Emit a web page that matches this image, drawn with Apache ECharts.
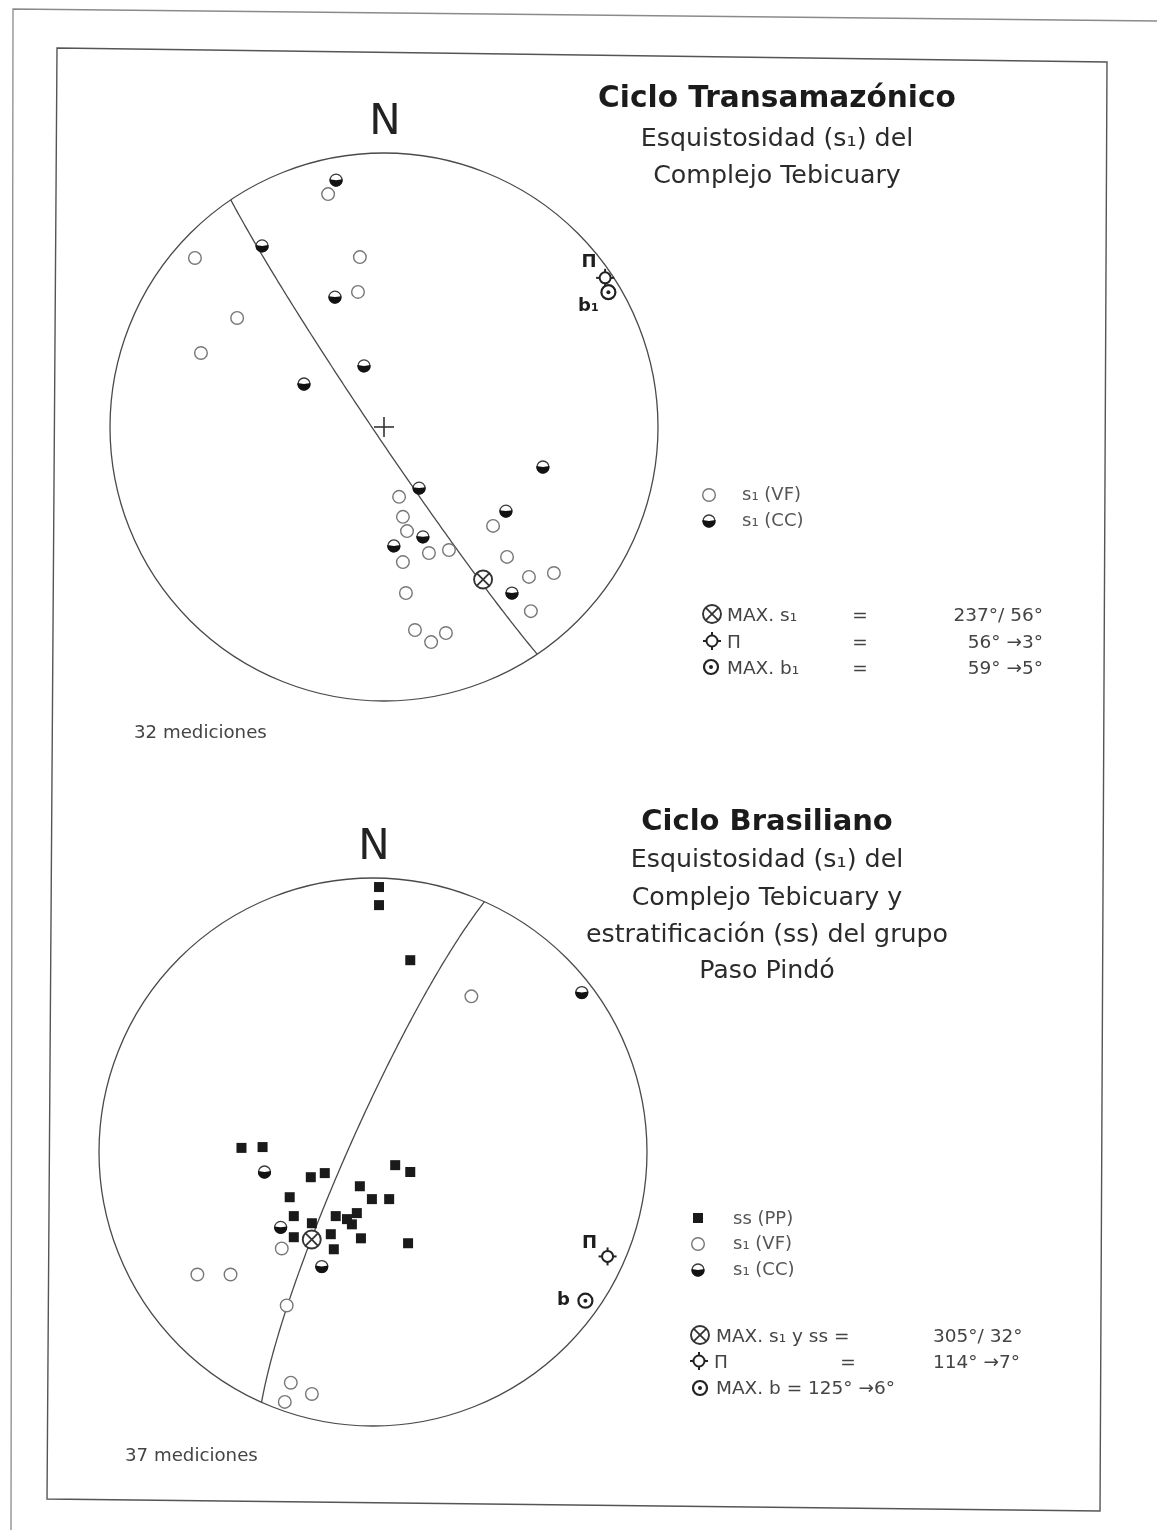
<!DOCTYPE html>
<html>
<head>
<meta charset="utf-8">
<title>Ciclo Transamazónico / Ciclo Brasiliano</title>
<script src="https://cdn.jsdelivr.net/npm/echarts@6/dist/echarts.min.js"></script>
<style>
  html, body { margin: 0; padding: 0; background: #ffffff; }
  #chart { width: 1157px; height: 1530px; }
</style>
</head>
<body>
<div id="chart"></div>
<script>
// Equal-area (Schmidt) nets, lower hemisphere. Pole positions are given as
// projected coordinates on a net of unit radius: [east, north].

// ---- Ciclo Transamazónico: esquistosidad s1 del Complejo Tebicuary (32 mediciones)
const transVF = [
  [-0.204, 0.850], [-0.690, 0.617], [-0.088, 0.620], [-0.095, 0.493], [-0.536, 0.398],
  [-0.668, 0.270], [0.055, -0.255], [0.069, -0.328], [0.084, -0.380], [0.164, -0.460],
  [0.237, -0.449], [0.069, -0.493], [0.398, -0.361], [0.449, -0.474], [0.529, -0.547],
  [0.620, -0.533], [0.536, -0.672], [0.080, -0.606], [0.113, -0.741], [0.172, -0.785],
  [0.226, -0.752]
];
const transCC = [
  [-0.175, 0.901], [-0.445, 0.661], [-0.179, 0.474], [-0.073, 0.223], [-0.292, 0.157],
  [0.580, -0.146], [0.128, -0.223], [0.445, -0.307], [0.142, -0.401], [0.036, -0.434],
  [0.467, -0.606]
];
const transMaxS = [237, 56];   // strike / dip of the s1 maximum
const transPi = [56, 3];       // trend / plunge of Π
const transB = [59, 5];        // trend / plunge of b1

// ---- Ciclo Brasiliano: s1 del Complejo Tebicuary y ss del grupo Paso Pindó (37 mediciones)
const brasSS = [
  [0.022, 0.967], [0.022, 0.901], [0.136, 0.700], [-0.480, 0.015], [-0.403, 0.018],
  [-0.227, -0.092], [-0.176, -0.077], [0.081, -0.048], [0.136, -0.073], [-0.048, -0.125],
  [-0.304, -0.165], [-0.004, -0.172], [0.059, -0.172], [-0.289, -0.234], [-0.223, -0.260],
  [-0.136, -0.234], [-0.095, -0.245], [-0.059, -0.223], [-0.077, -0.264], [-0.289, -0.311],
  [-0.154, -0.300], [-0.044, -0.315], [-0.143, -0.355], [0.128, -0.333]
];
const brasVF = [
  [0.359, 0.568], [-0.333, -0.352], [-0.641, -0.447], [-0.520, -0.447], [-0.315, -0.560],
  [-0.300, -0.842], [-0.223, -0.883], [-0.322, -0.912]
];
const brasCC = [
  [0.762, 0.582], [-0.396, -0.073], [-0.337, -0.275], [-0.187, -0.418]
];
const brasMaxS = [305, 32];    // strike / dip of the s1 + ss maximum
const brasPi = [114, 7];       // trend / plunge of Π
const brasB = [125, 6];        // trend / plunge of b

// ---- text blocks
const transTitle = 'Ciclo Transamazónico';
const transSubtitle = ['Esquistosidad (s₁) del', 'Complejo Tebicuary'];
const transLegend = ['s₁ (VF)', 's₁ (CC)'];
const transSummary = [
  ['MAX. s₁', '=', '237°/ 56°'],
  ['Π', '=', '56° →3°'],
  ['MAX. b₁', '=', '59° →5°']
];
const transCount = '32 mediciones';

const brasTitle = 'Ciclo Brasiliano';
const brasSubtitle = ['Esquistosidad (s₁) del', 'Complejo Tebicuary y',
  'estratificación (ss) del grupo', 'Paso Pindó'];
const brasLegend = ['ss (PP)', 's₁ (VF)', 's₁ (CC)'];
const brasSummary = [
  ['MAX. s₁ y ss =', '', '305°/ 32°'],
  ['Π', '=', '114° →7°'],
  ['MAX. b = 125° →6°', '', '']
];
const brasCount = '37 mediciones';

// ---- projection helpers
const D2R = Math.PI / 180;
function schmidt(trend, plunge) {
  const r = Math.SQRT2 * Math.sin((90 - plunge) / 2 * D2R);
  return [r * Math.sin(trend * D2R), r * Math.cos(trend * D2R)];
}
// pole of a plane given as strike / dip (right-hand rule)
function planePole(strike, dip) {
  return [(strike + 270) % 360, 90 - dip];
}
// great circle (girdle) normal to a pole, lower hemisphere
function girdle(trend, plunge) {
  const t = trend * D2R, p = plunge * D2R;
  const s = [Math.sin(t + Math.PI / 2), Math.cos(t + Math.PI / 2), 0];
  const dp = Math.PI / 2 - p;
  const d = [Math.cos(dp) * Math.sin(t + Math.PI), Math.cos(dp) * Math.cos(t + Math.PI), Math.sin(dp)];
  const pts = [];
  for (let k = 0; k <= 180; k++) {
    const a = k * D2R, c = Math.cos(a), sn = Math.sin(a);
    const v = [s[0] * c + d[0] * sn, s[1] * c + d[1] * sn, s[2] * c + d[2] * sn];
    const h = Math.hypot(v[0], v[1]);
    const r = Math.sqrt(Math.max(0, 1 - v[2]));
    pts.push(h < 1e-9 ? [0, 0] : [r * v[0] / h, r * v[1] / h]);
  }
  return pts;
}

// ---- symbols
const INK = '#2b2b2b';
const FONT = '"DejaVu Sans", "Liberation Sans", Arial, sans-serif';

function symOpen(cx, cy) {
  return { type: 'circle', shape: { cx, cy, r: 6.3 }, style: { fill: '#fff', stroke: '#777', lineWidth: 1.4 } };
}
function symHalf(cx, cy) {
  return { type: 'group', children: [
    { type: 'circle', shape: { cx, cy, r: 6 }, style: { fill: '#fff', stroke: '#3a3a3a', lineWidth: 1.3 } },
    { type: 'sector', shape: { cx, cy, r0: 0, r: 6.5, startAngle: -0.15, endAngle: Math.PI + 0.15, clockwise: true },
      style: { fill: '#121212' } }
  ] };
}
function symSquare(cx, cy) {
  return { type: 'rect', shape: { x: cx - 5, y: cy - 5, width: 10, height: 10 }, style: { fill: '#1a1a1a' } };
}
function symMax(cx, cy) {
  const r = 9, k = r * 0.68;
  return { type: 'group', children: [
    { type: 'circle', shape: { cx, cy, r }, style: { fill: '#fff', stroke: '#333', lineWidth: 1.9 } },
    { type: 'line', shape: { x1: cx - k, y1: cy - k, x2: cx + k, y2: cy + k }, style: { stroke: '#333', lineWidth: 1.8 } },
    { type: 'line', shape: { x1: cx - k, y1: cy + k, x2: cx + k, y2: cy - k }, style: { stroke: '#333', lineWidth: 1.8 } }
  ] };
}
function symPi(cx, cy) {
  const r = 5.5, e = 3.5;
  const st = { stroke: '#222', lineWidth: 2 };
  return { type: 'group', children: [
    { type: 'circle', shape: { cx, cy, r }, style: { fill: '#fff', stroke: '#222', lineWidth: 2 } },
    { type: 'line', shape: { x1: cx, y1: cy - r - e, x2: cx, y2: cy - r }, style: st },
    { type: 'line', shape: { x1: cx, y1: cy + r, x2: cx, y2: cy + r + e }, style: st },
    { type: 'line', shape: { x1: cx - r - e, y1: cy, x2: cx - r, y2: cy }, style: st },
    { type: 'line', shape: { x1: cx + r, y1: cy, x2: cx + r + e, y2: cy }, style: st }
  ] };
}
function symB(cx, cy) {
  return { type: 'group', children: [
    { type: 'circle', shape: { cx, cy, r: 7 }, style: { fill: '#fff', stroke: '#222', lineWidth: 2.2 } },
    { type: 'circle', shape: { cx, cy, r: 2 }, style: { fill: '#222' } }
  ] };
}
function txt(x, y, text, size, opts) {
  const o = opts || {};
  return { type: 'text', x, y, z: 20, style: {
    text, font: (o.weight || 'normal') + ' ' + size + 'px ' + FONT,
    fill: o.color || INK,
    textAlign: o.align || 'left', align: o.align || 'left',
    textVerticalAlign: 'middle', verticalAlign: 'middle'
  } };
}

// ---- series builders
function netSeries(g) {
  return {
    type: 'custom', xAxisIndex: g, yAxisIndex: g, z: 1, silent: true,
    data: [[0, 0]],
    renderItem(params, api) {
      const c = api.coord([0, 0]);
      const r = api.size([1, 1])[0];
      const children = [
        { type: 'circle', shape: { cx: c[0], cy: c[1], r }, style: { fill: null, stroke: '#4a4a4a', lineWidth: 1.3 } }
      ];
      if (g === 0) {
        children.push(
          { type: 'line', shape: { x1: c[0] - 10, y1: c[1], x2: c[0] + 10, y2: c[1] }, style: { stroke: '#333', lineWidth: 1.6 } },
          { type: 'line', shape: { x1: c[0], y1: c[1] - 10, x2: c[0], y2: c[1] + 10 }, style: { stroke: '#333', lineWidth: 1.6 } }
        );
      }
      return { type: 'group', children };
    }
  };
}
function girdleSeries(g, pole) {
  return {
    type: 'custom', xAxisIndex: g, yAxisIndex: g, z: 2, silent: true,
    data: [pole],
    renderItem(params, api) {
      const pts = girdle(api.value(0), api.value(1)).map(q => api.coord(q));
      return { type: 'polyline', shape: { points: pts }, style: { stroke: '#4a4a4a', lineWidth: 1.3, fill: null } };
    }
  };
}
function pointSeries(g, data, draw, z) {
  return {
    type: 'custom', xAxisIndex: g, yAxisIndex: g, z: z || 3, silent: true,
    data,
    renderItem(params, api) {
      const p = api.coord([api.value(0), api.value(1)]);
      return draw(p[0], p[1]);
    }
  };
}
function markSeries(g, value, kind, label, dx, dy) {
  return {
    type: 'custom', xAxisIndex: g, yAxisIndex: g, z: 6, silent: true,
    data: [value],
    renderItem(params, api) {
      const a = api.value(0), b = api.value(1);
      const tp = kind === 'max' ? planePole(a, b) : [a, b];
      const p = api.coord(schmidt(tp[0], tp[1]));
      const sym = kind === 'max' ? symMax : (kind === 'pi' ? symPi : symB);
      const children = [sym(p[0], p[1])];
      if (label) {
        children.push({ type: 'text', x: p[0] + dx, y: p[1] + dy, style: {
          text: label, font: 'bold 18px ' + FONT, fill: '#1e1e1e',
          textAlign: 'center', align: 'center', textVerticalAlign: 'middle', verticalAlign: 'middle'
        } });
      }
      return { type: 'group', children };
    }
  };
}

// ---- page decoration: frame, titles, legends, summaries
const SMALL = 18.5;
const decor = [
  { type: 'polyline', z: 0, shape: { points: [[11, 1530], [13, 9], [1157, 21]] },
    style: { stroke: '#8a8a8a', lineWidth: 1.3, fill: null } },
  { type: 'polygon', z: 0, shape: { points: [[57, 48], [1107, 62], [1100, 1511], [47, 1499]] },
    style: { stroke: '#555', lineWidth: 1.4, fill: null } },

  txt(385, 123, 'N', 42, { align: 'center', color: '#222' }),
  txt(777, 99, transTitle, 29.6, { align: 'center', weight: 'bold', color: '#1b1b1b' }),
  txt(777, 139, transSubtitle[0], 25.3, { align: 'center' }),
  txt(777, 176, transSubtitle[1], 25.3, { align: 'center' }),

  symOpen(709, 495), txt(742, 495, transLegend[0], 18, { color: '#555' }),
  symHalf(709, 521), txt(742, 521, transLegend[1], 18, { color: '#555' }),

  symMax(712, 614), txt(727, 616, transSummary[0][0], SMALL, { color: '#444' }),
  txt(860, 616, transSummary[0][1], SMALL, { align: 'center', color: '#444' }),
  txt(1043, 616, transSummary[0][2], SMALL, { align: 'right', color: '#444' }),
  symPi(712, 641), txt(727, 643, transSummary[1][0], SMALL, { color: '#444' }),
  txt(860, 643, transSummary[1][1], SMALL, { align: 'center', color: '#444' }),
  txt(1043, 643, transSummary[1][2], SMALL, { align: 'right', color: '#444' }),
  symB(711, 667), txt(727, 669, transSummary[2][0], SMALL, { color: '#444' }),
  txt(860, 669, transSummary[2][1], SMALL, { align: 'center', color: '#444' }),
  txt(1043, 669, transSummary[2][2], SMALL, { align: 'right', color: '#444' }),

  txt(134, 733, transCount, 18.2, { color: '#444' }),

  txt(374, 848, 'N', 42, { align: 'center', color: '#222' }),
  txt(767, 822, brasTitle, 29, { align: 'center', weight: 'bold', color: '#1b1b1b' }),
  txt(767, 860, brasSubtitle[0], 25.3, { align: 'center' }),
  txt(767, 898, brasSubtitle[1], 25.3, { align: 'center' }),
  txt(767, 935, brasSubtitle[2], 25.3, { align: 'center' }),
  txt(767, 971, brasSubtitle[3], 25.3, { align: 'center' }),

  symSquare(698, 1218), txt(733, 1219, brasLegend[0], 18, { color: '#555' }),
  symOpen(698, 1244), txt(733, 1244, brasLegend[1], 18, { color: '#555' }),
  symHalf(698, 1270), txt(733, 1270, brasLegend[2], 18, { color: '#555' }),

  symMax(700, 1335), txt(716, 1337, brasSummary[0][0], SMALL, { color: '#444' }),
  txt(933, 1337, brasSummary[0][2], SMALL, { color: '#444' }),
  symPi(699, 1361), txt(714, 1363, brasSummary[1][0], SMALL, { color: '#444' }),
  txt(848, 1363, brasSummary[1][1], SMALL, { align: 'center', color: '#444' }),
  txt(933, 1363, brasSummary[1][2], SMALL, { color: '#444' }),
  symB(700, 1388), txt(716, 1389, brasSummary[2][0], SMALL, { color: '#444' }),

  txt(125, 1456, brasCount, 18.2, { color: '#444' })
];

const chart = echarts.init(document.getElementById('chart'), null, { renderer: 'canvas' });
const axisOff = { type: 'value', min: -1, max: 1, show: false };
chart.setOption({
  animation: false,
  backgroundColor: '#ffffff',
  grid: [
    { left: 110, top: 153, width: 548, height: 548 },
    { left: 99, top: 878, width: 548, height: 548 }
  ],
  xAxis: [Object.assign({ gridIndex: 0 }, axisOff), Object.assign({ gridIndex: 1 }, axisOff)],
  yAxis: [Object.assign({ gridIndex: 0 }, axisOff), Object.assign({ gridIndex: 1 }, axisOff)],
  graphic: { elements: decor },
  series: [
    netSeries(0),
    girdleSeries(0, transPi),
    pointSeries(0, transVF, symOpen),
    pointSeries(0, transCC, symHalf),
    markSeries(0, transMaxS, 'max'),
    markSeries(0, transPi, 'pi', 'Π', -16, -16),
    markSeries(0, transB, 'b', 'b₁', -20, 14),

    netSeries(1),
    girdleSeries(1, brasPi),
    pointSeries(1, brasSS, symSquare),
    pointSeries(1, brasVF, symOpen),
    pointSeries(1, brasCC, symHalf),
    markSeries(1, brasMaxS, 'max'),
    markSeries(1, brasPi, 'pi', 'Π', -18, -13),
    markSeries(1, brasB, 'b', 'b', -22, 0)
  ]
});
</script>
</body>
</html>
